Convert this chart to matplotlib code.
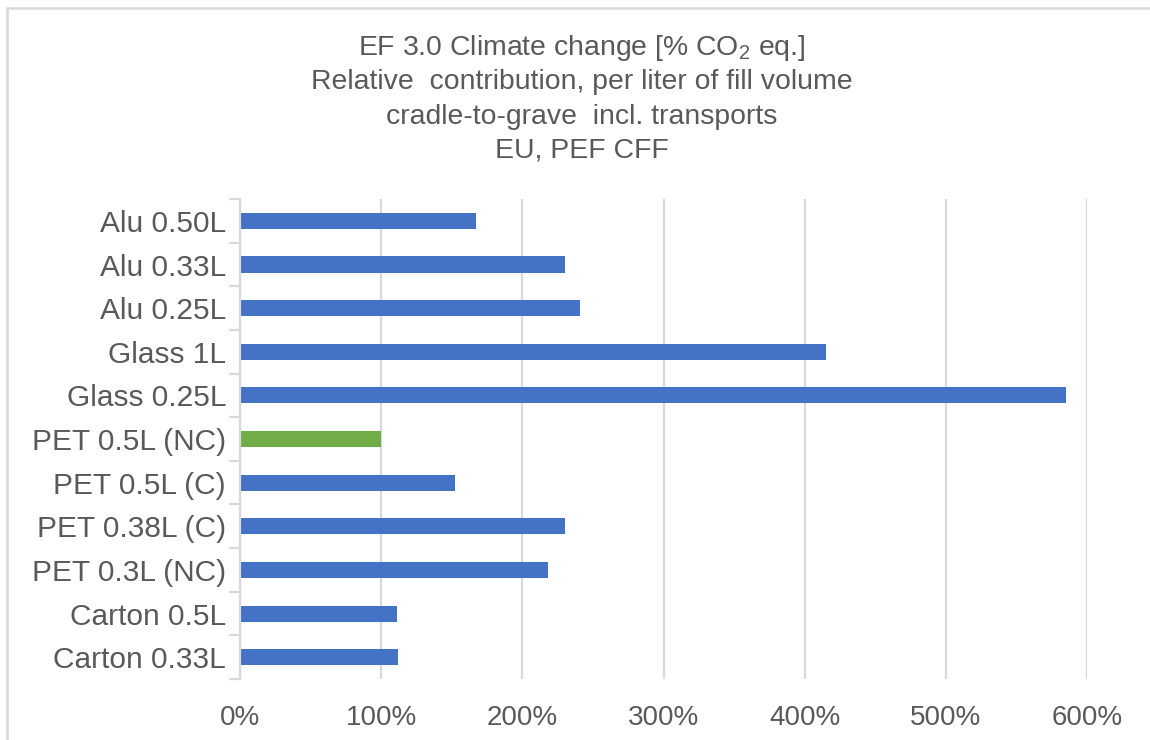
# Climate change relative contribution per liter, horizontal bar chart
import matplotlib
matplotlib.use('Agg')
import matplotlib.pyplot as plt
from matplotlib.patches import Rectangle
from matplotlib.ticker import FuncFormatter, FixedLocator
import numpy as np

# --- Data (relative to PET 0.5L (NC) = 100%) ---
packages = ["Alu 0.50L", "Alu 0.33L", "Alu 0.25L", "Glass 1L", "Glass 0.25L",
            "PET 0.5L (NC)", "PET 0.5L (C)", "PET 0.38L (C)", "PET 0.3L (NC)",
            "Carton 0.5L", "Carton 0.33L"]
values = [167, 230, 241, 415, 585, 100, 152, 230, 218, 111, 112]
reference = "PET 0.5L (NC)"

title_lines = ["EF 3.0 Climate change [% CO$_2$ eq.]",
               "Relative  contribution, per liter of fill volume",
               "cradle-to-grave  incl. transports",
               "EU, PEF CFF"]

# --- Style ---
BLUE = "#4472C4"
GREEN = "#70AD47"
GRID = "#D9D9D9"
TEXT = "#595959"

plt.rcParams['font.family'] = ['Liberation Sans', 'DejaVu Sans']
plt.rcParams['mathtext.fontset'] = 'custom'
plt.rcParams['mathtext.rm'] = 'Liberation Sans'
plt.rcParams['mathtext.it'] = 'Liberation Sans:italic'

fig = plt.figure(figsize=(11.5, 7.4), dpi=100)
ax = fig.add_axes([0.2087, 0.0824, 0.9453 - 0.2087, 0.731 - 0.0824])

y = np.arange(len(packages))
colors = [GREEN if p == reference else BLUE for p in packages]
ax.barh(y, values, height=0.37, color=colors, zorder=3)

ax.set_xlim(0, 600)
ax.set_ylim(len(packages) - 0.5, -0.5)
ax.set_xticks(np.arange(0, 601, 100))
ax.xaxis.set_major_formatter(FuncFormatter(lambda v, _: f"{v:.0f}%"))
ax.grid(axis='x', color=GRID, linewidth=1.6, zorder=0)

ax.set_yticks(y)
ax.set_yticklabels(packages)
# category separators as outward minor ticks
ax.yaxis.set_minor_locator(FixedLocator(np.arange(-0.5, len(packages), 1.0)))
ax.tick_params(axis='y', which='major', length=0, pad=10, labelsize=21.5, labelcolor=TEXT)
ax.tick_params(axis='y', which='minor', length=8, width=1.6, color=GRID)
ax.tick_params(axis='x', length=0, pad=19, labelsize=20, labelcolor=TEXT)

for side in ('top', 'right', 'bottom'):
    ax.spines[side].set_visible(False)
ax.spines['left'].set_color(GRID)
ax.spines['left'].set_linewidth(1.6)
ax.spines['left'].set_zorder(4)

# title block
for i, line in enumerate(title_lines):
    fig.text(0.506, 1 - (48 + 34.3 * i) / 740, line, ha='center', va='center',
             fontsize=20.4, color=TEXT)

# chart-area border
fig.patches.append(Rectangle((7 / 1150, -0.2), 1.2, 1.2 - 8 / 740,
                             transform=fig.transFigure, fill=False,
                             edgecolor=GRID, linewidth=1.8))

fig.savefig("out.png", dpi=100)
plt.close(fig)
